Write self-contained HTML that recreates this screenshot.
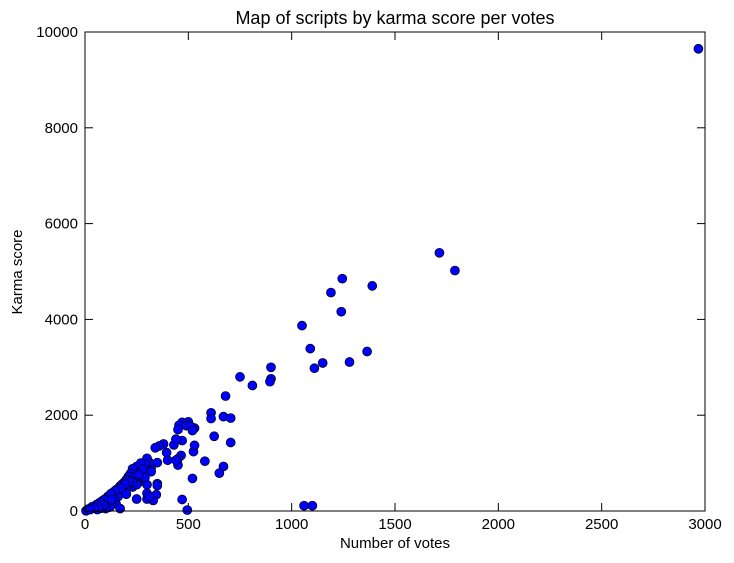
<!DOCTYPE html>
<html><head><meta charset="utf-8"><style>
body{margin:0;background:#fff;font-family:"Liberation Sans",sans-serif}
svg text{font-family:"Liberation Sans",sans-serif;fill:#000}
</style></head><body>
<svg id="chart" width="734" height="558" xmlns="http://www.w3.org/2000/svg">
<rect width="734" height="558" fill="#fff"/>
<text x="395" y="24" font-size="18" text-anchor="middle">Map of scripts by karma score per votes</text>
<text x="395" y="548" font-size="15" text-anchor="middle">Number of votes</text>
<text transform="translate(22,272) rotate(-90)" font-size="15" text-anchor="middle">Karma score</text>
<g id="ticks"></g>
<g id="points"></g>
<rect x="85" y="32" width="620" height="479" fill="none" stroke="#000" stroke-width="1"/>
</svg>
<script>
const xTicks=[0,500,1000,1500,2000,2500,3000];
const yTicks=[0,2000,4000,6000,8000,10000];
const votes=[2968,1715,1790,1245,1390,1190,1240,1050,1090,1110,1280,1365,1150,900,900,895,750,810,680,610,610,670,705,625,705,580,670,650,520,470,495,1060,1100,525,530,530,500,470,455,450,490,510,520,470,430,440,465,450,450,440,400,395,380,360,340,350,350,350,345,330,300,300,320,310,300,290,270,250,230,220,210,200,190,180,170,160,150,140,130,120,110,100,90,80,70,60,50,40,30,20,10,5,250,230,260,280,270,240,200,180,160,150,120,100,170,110,140,60,80,200,250,280,230,300,310,290,320,260,215,195,175,145,125,95,75,55,35,15,130,90,65,45,25];
const karma=[9650,5390,5020,4850,4700,4560,4160,3870,3390,2980,3110,3330,3090,3000,2760,2700,2800,2620,2400,2050,1930,1970,1940,1560,1430,1040,930,790,680,240,20,110,110,1240,1370,1730,1860,1850,1790,1700,1780,1770,1680,1470,1380,1500,1160,1090,960,1060,1060,1220,1400,1360,1320,1010,570,530,340,220,250,370,900,1020,1100,980,1000,930,880,780,720,650,600,560,520,470,440,400,370,330,300,260,230,200,170,140,110,80,60,40,20,5,250,500,600,700,820,700,500,400,300,150,80,50,50,200,250,30,60,350,550,870,600,550,300,700,820,760,620,560,480,420,360,240,180,130,90,40,240,120,80,60,30];
const X=v=>85+v*620/3000, Y=v=>511-v*479/10000;
const NS='http://www.w3.org/2000/svg';
const tg=document.getElementById('ticks'), pg=document.getElementById('points');
function mk(t,a){const e=document.createElementNS(NS,t);for(const k in a)e.setAttribute(k,a[k]);return e;}
xTicks.forEach(v=>{
 const x=X(v);
 const l1=mk('line',{x1:x,x2:x,y1:511,y2:503,stroke:'#000'});
 
 
 tg.appendChild(l1);
 const l2=mk('line',{x1:x,x2:x,y1:32,y2:40,stroke:'#000'});
 
 
 tg.appendChild(l2);
 const t=mk('text',{x:x,y:529,'font-size':15,'text-anchor':'middle'});
 
 
 t.textContent=v;tg.appendChild(t);
});
yTicks.forEach(v=>{
 const y=Y(v);
 const l1=mk('line',{x1:85,x2:93,y1:y,y2:y,stroke:'#000'});
 
 
 tg.appendChild(l1);
 const l2=mk('line',{x1:697,x2:705,y1:y,y2:y,stroke:'#000'});
 
 
 tg.appendChild(l2);
 const t=mk('text',{x:78,y:y+5,'font-size':15,'text-anchor':'end'});
 
 
 t.textContent=v;tg.appendChild(t);
});
votes.forEach((v,i)=>{
 const c=mk('circle',{cx:X(v),cy:Y(karma[i]),r:4.5,fill:'#0000ff',stroke:'#000','stroke-width':0.7});
 
 
 pg.appendChild(c);
});
</script>
</body></html>
